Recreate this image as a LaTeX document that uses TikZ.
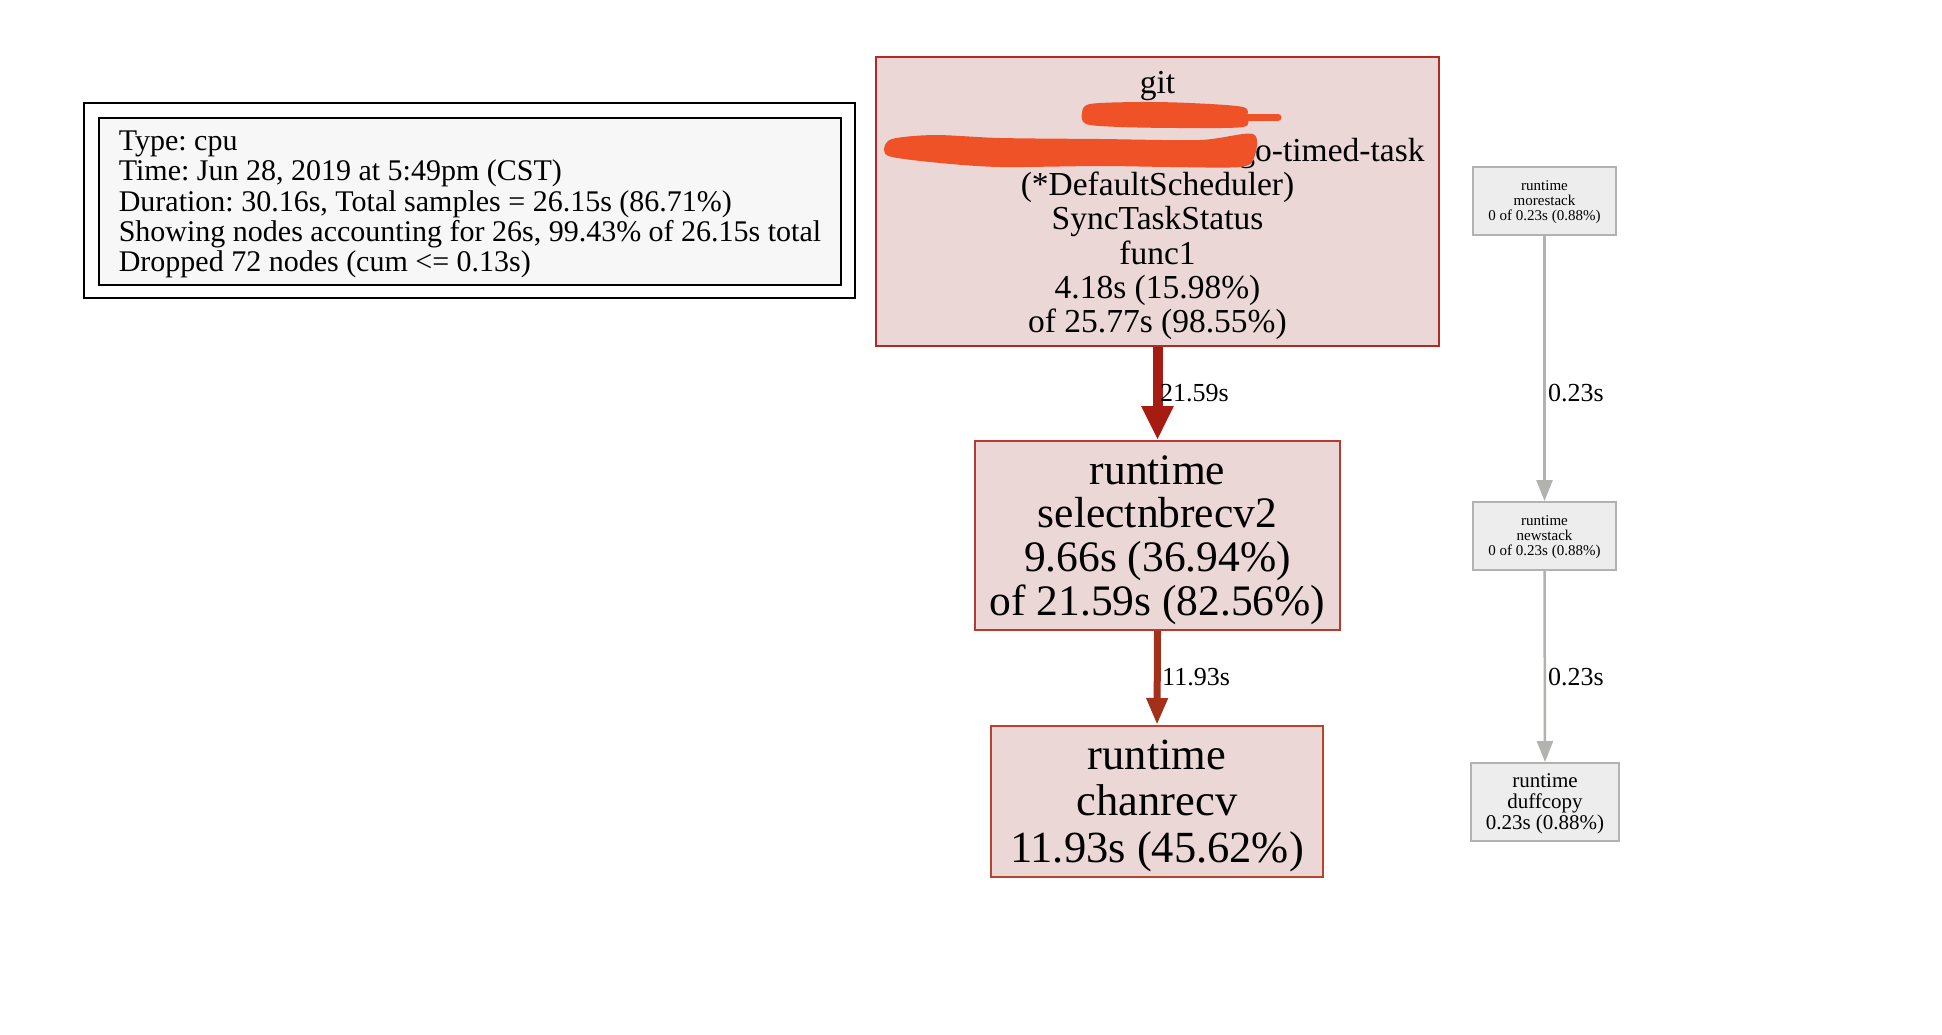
\documentclass[tikz,border=0pt]{standalone}
\usepackage{fontspec}
\setmainfont{Liberation Serif}
\usetikzlibrary{arrows.meta}
\definecolor{hotfill}{HTML}{EAD7D6}
\definecolor{hotborderA}{HTML}{B22A22}
\definecolor{hotborderB}{HTML}{B8392E}
\definecolor{hotborderC}{HTML}{B8442E}
\definecolor{edgeA}{HTML}{A61C12}
\definecolor{edgeB}{HTML}{A3311A}
\definecolor{grayfill}{HTML}{EDEDED}
\definecolor{grayborder}{HTML}{B2B2B2}
\definecolor{grayedge}{HTML}{B2B2AE}
\definecolor{legendfill}{HTML}{F7F7F7}
\definecolor{redact}{HTML}{F05228}
\newcommand\myfs[2]{\fontsize{#1}{#2}\selectfont}
\newcommand\upstrut[1]{\rule{0pt}{#1}}
\frenchspacing
\tikzset{
  hotbox/.style={draw=#1, fill=hotfill, line width=2pt, inner sep=0pt, align=center},
  graybox/.style={draw=grayborder, fill=grayfill, line width=2pt, inner sep=0pt, align=center},
  elabel/.style={anchor=west, inner sep=0pt, font=\myfs{26}{26}},
  hotedgeA/.style={draw=edgeA, line width=10pt, -{Triangle[width=30pt,length=34pt]}},
  hotedgeB/.style={draw=edgeB, line width=7pt, -{Triangle[width=20pt,length=27pt]}},
  coldedge/.style={draw=grayedge, line width=2.5pt, -{Triangle[width=16pt,length=21pt]}},
}
\begin{document}
\begin{tikzpicture}[x=1pt,y=-1pt]
\useasboundingbox[fill=white] (0,0) rectangle (1942,1034);

% legend
\node[draw=black, fill=white, line width=2pt, minimum width=771pt, minimum height=195pt, inner sep=0pt] (legendouter) at (469.5,200.5) {};
\node[draw=black, fill=legendfill, line width=2pt, minimum width=742pt, minimum height=167pt, inner sep=0pt, align=left, font=\myfs{30}{30.3}] (legend) at (470,201.5)
  {\upstrut{25.5pt}Type: cpu\\
   Time: Jun 28, 2019 at 5:49pm (CST)\\
   Duration: 30.16s, Total samples = 26.15s (86.71\%)\\
   Showing nodes accounting for 26s, 99.43\% of 26.15s total\\
   Dropped 72 nodes (cum <= 0.13s)};

% hot nodes
\node[hotbox=hotborderA, minimum width=563pt, minimum height=289pt, font=\myfs{33.5}{34.1}] (top) at (1157.5,201.5)
  {\upstrut{30pt}git\\
   \mbox{}\\
   \makebox[534pt][r]{go-timed-task}\\
   (*DefaultScheduler)\\
   SyncTaskStatus\\
   func1\\
   4.18s (15.98\%)\\
   of 25.77s (98.55\%)};
\node[hotbox=hotborderB, minimum width=365pt, minimum height=189pt, font=\myfs{43.5}{43.7}] (mid) at (1157.5,535.5)
  {\upstrut{37.5pt}runtime\\ selectnbrecv2\\ 9.66s (36.94\%)\\ of 21.59s (82.56\%)};
\node[hotbox=hotborderC, minimum width=332pt, minimum height=151pt, font=\myfs{44.5}{46.4}] (bot) at (1157,801.5)
  {\upstrut{38pt}runtime\\ chanrecv\\ 11.93s (45.62\%)};

% gray nodes
\node[graybox, minimum width=143pt, minimum height=68pt, font=\myfs{15}{15}] (more) at (1544.5,201)
  {\upstrut{13pt}runtime\\ morestack\\ 0 of 0.23s (0.88\%)};
\node[graybox, minimum width=143pt, minimum height=68pt, font=\myfs{15}{15}] (newst) at (1544.5,536)
  {\upstrut{13pt}runtime\\ newstack\\ 0 of 0.23s (0.88\%)};
\node[graybox, minimum width=148pt, minimum height=78pt, font=\myfs{21}{21}] (duff) at (1545,802)
  {\upstrut{17pt}runtime\\ duffcopy\\ 0.23s (0.88\%)};

% edges
\draw[hotedgeA] (top.south) -- (mid.north);
\draw[hotedgeB] (mid.south) -- (bot.north);
\draw[coldedge] (more.south) -- (newst.north);
\draw[coldedge] (newst.south) -- (duff.north);

% edge labels
\node[elabel] (lA) at (1160,393) {21.59s};
\node[elabel] (lB) at (1162,677) {11.93s};
\node[elabel] (lC) at (1548,393) {0.23s};
\node[elabel] (lD) at (1548,677) {0.23s};

% redaction strokes
\fill[redact] plot[smooth cycle, tension=0.5] coordinates {
  (1082,113) (1090,104) (1140,102) (1190,103) (1243,107) (1247,117)
  (1243,127) (1180,128) (1120,127) (1086,124)};
\draw[redact, line width=7pt, line cap=round] (1235,117) -- (1278,117);
\fill[redact] plot[smooth cycle, tension=0.5] coordinates {
  (884,150) (892,139) (935,135) (1000,138) (1100,139) (1200,140) (1253,134)
  (1254,158) (1240,167) (1170,167) (1100,166) (1000,167) (940,163) (892,157)};
\end{tikzpicture}
\end{document}
